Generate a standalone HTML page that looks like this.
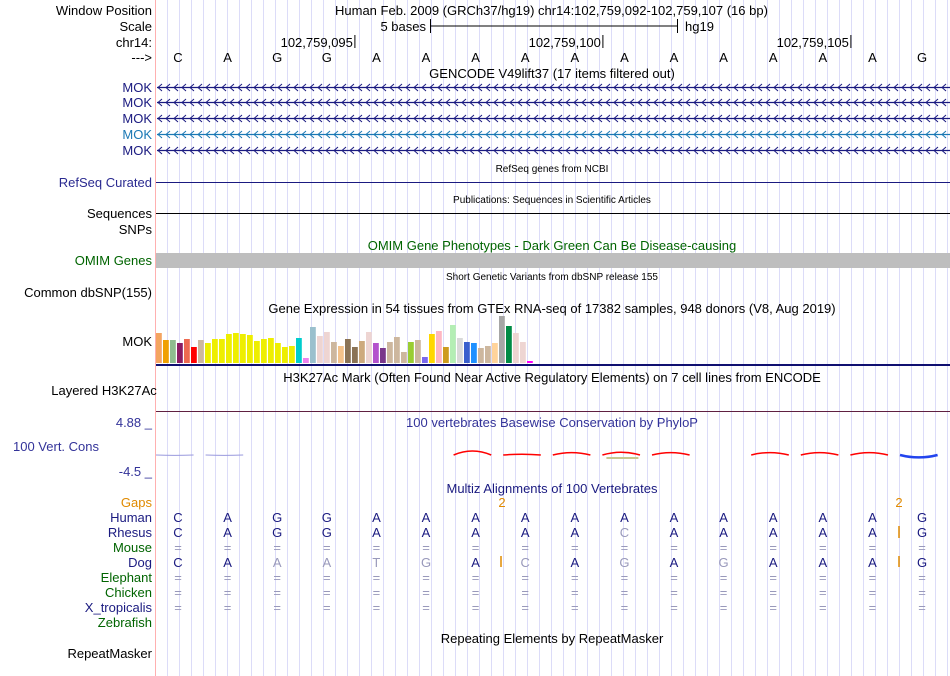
<!DOCTYPE html>
<html><head><meta charset="utf-8"><style>
body{margin:0;background:#fff;}
svg{display:block;font-family:"Liberation Sans",sans-serif;}
</style></head><body>
<svg id="chart" width="950" height="676" viewBox="0 0 950 676" xmlns="http://www.w3.org/2000/svg">
<g id="grid"></g>
<line x1="155.5" y1="0" x2="155.5" y2="676" stroke="#ffb0b0" stroke-width="1"/>
<g font-size="13" text-anchor="end" fill="#000">
<text x="152" y="15">Window Position</text>
<text x="152" y="31">Scale</text>
<text x="152" y="47">chr14:</text>
<text x="152" y="62">---&gt;</text>
<text x="152" y="92" fill="#1a1a80">MOK</text>
<text x="152" y="107" fill="#1a1a80">MOK</text>
<text x="152" y="123" fill="#1a1a80">MOK</text>
<text x="152" y="139" fill="#1a78b4">MOK</text>
<text x="152" y="155" fill="#1a1a80">MOK</text>
<text x="152" y="187" fill="#2a2a90">RefSeq Curated</text>
<text x="152" y="218">Sequences</text>
<text x="152" y="234">SNPs</text>
<text x="152" y="265" fill="#006400">OMIM Genes</text>
<text x="152" y="297">Common dbSNP(155)</text>
<text x="152" y="346">MOK</text>
<text x="104" y="395" text-anchor="middle">Layered H3K27Ac</text>
<text x="152" y="427" fill="#333399">4.88 _</text>
<text x="56" y="451" text-anchor="middle" fill="#333399">100 Vert. Cons</text>
<text x="152" y="476" fill="#333399">-4.5 _</text>
<text x="152" y="507" fill="#e08a00">Gaps</text>
<text x="152" y="522" fill="#1a1a80">Human</text>
<text x="152" y="537" fill="#1a1a80">Rhesus</text>
<text x="152" y="552" fill="#006400">Mouse</text>
<text x="152" y="567" fill="#1a1a80">Dog</text>
<text x="152" y="582" fill="#006400">Elephant</text>
<text x="152" y="597" fill="#006400">Chicken</text>
<text x="152" y="612" fill="#1a1a80">X_tropicalis</text>
<text x="152" y="627" fill="#006400">Zebrafish</text>
<text x="152" y="658">RepeatMasker</text>
</g>
<g font-size="13" fill="#000">
<text x="335" y="15">Human Feb. 2009 (GRCh37/hg19)   chr14:102,759,092-102,759,107 (16 bp)</text>
<text x="426" y="31" text-anchor="end">5 bases</text>
<line x1="430" y1="26" x2="677" y2="26" stroke="#000"/>
<line x1="430.5" y1="19" x2="430.5" y2="33" stroke="#000"/>
<line x1="677.5" y1="19" x2="677.5" y2="33" stroke="#000"/>
<text x="685" y="31">hg19</text>
<text x="552" y="78" text-anchor="middle">GENCODE V49lift37 (17 items filtered out)</text>
<text x="552" y="172" text-anchor="middle" font-size="10">RefSeq genes from NCBI</text>
<text x="552" y="203" text-anchor="middle" font-size="10">Publications: Sequences in Scientific Articles</text>
<text x="552" y="250" text-anchor="middle" fill="#006400">OMIM Gene Phenotypes - Dark Green Can Be Disease-causing</text>
<text x="552" y="280" text-anchor="middle" font-size="10">Short Genetic Variants from dbSNP release 155</text>
<text x="552" y="313" text-anchor="middle">Gene Expression in 54 tissues from GTEx RNA-seq of 17382 samples, 948 donors (V8, Aug 2019)</text>
<text x="552" y="382" text-anchor="middle">H3K27Ac Mark (Often Found Near Active Regulatory Elements) on 7 cell lines from ENCODE</text>
<text x="552" y="427" text-anchor="middle" fill="#333399">100 vertebrates Basewise Conservation by PhyloP</text>
<text x="552" y="493" text-anchor="middle" fill="#1a1a80">Multiz Alignments of 100 Vertebrates</text>
<text x="552" y="643" text-anchor="middle">Repeating Elements by RepeatMasker</text>
</g>
<g id="ruler"></g>
<g id="genes"></g>
<line x1="156" y1="182.5" x2="950" y2="182.5" stroke="#1a1a80"/>
<line x1="156" y1="213.5" x2="950" y2="213.5" stroke="#000"/>
<rect x="156" y="253" width="794" height="15" fill="#bebebe"/>
<g id="gtex"></g>
<rect x="156" y="364" width="794" height="2" fill="#101070"/>
<line x1="156" y1="411.5" x2="950" y2="411.5" stroke="#602040"/>
<g id="cons"></g>
<g id="multiz"></g>
</svg>
<script>
const bases = ["C","A","G","G","A","A","A","A","A","A","A","A","A","A","A","G"];
const rhesus = ["C","A","G","G","A","A","A","A","A","C","A","A","A","A","A","G"];
const dog = ["C","A","A","A","T","G","A","C","A","G","A","G","A","A","A","G"];
const rulerLabels = ["102,759,095","102,759,100","102,759,105"];
const rulerIdx = [3,8,13];
const gtexValues = [30,23,23,20,24,16,23,20,24,24,29,30,29,28,22,24,25,20,16,17,25,5,36,27,31,21,17,24,16,22,31,20,15,21,26,11,21,23,6,29,32,16,38,25,21,20,15,17,20,47,37,30,21,2];
const gtexColors = ["#f4a460","#f0a000","#8fbc8f","#8b1c62","#ee6a50","#ff0000","#cdb79e","#eeee00","#eeee00","#eeee00","#eeee00","#eeee00","#eeee00","#eeee00","#eeee00","#eeee00","#eeee00","#eeee00","#eeee00","#eeee00","#00cdcd","#ee82ee","#9ac0cd","#eed5d2","#eed5d2","#cdb79e","#f4c28a","#8b7355","#8b7355","#cdaa7d","#eed5d2","#b452cd","#7a378b","#cdb79e","#cdb79e","#cdb79e","#9acd32","#cdb79e","#7b68ee","#ffd700","#ffb6c1","#cd9b1d","#b4eeb4","#d9d9d9","#3a5fcd","#1e90ff","#cdb79e","#cdb79e","#ffd39b","#a6a6a6","#008b45","#eed5d2","#eed5d2","#ff00ff"];
const consValues = [-0.05,-0.05,null,null,null,null,0.5,0.1,0.3,0.35,0.3,null,0.3,0.3,0.3,-0.3];
const consColors = ["#9999dd","#9999dd",null,null,null,null,"red","red","red","red","red",null,"red","red","red","#2244ee"];
const ns="http://www.w3.org/2000/svg";
const X0=156, BW=49.6;
function bx(i){return X0+BW*i+22;}
function mk(tag,attrs,parent){const e=document.createElementNS(ns,tag);for(const k in attrs)e.setAttribute(k,attrs[k]);parent.appendChild(e);return e;}
const grid=document.getElementById('grid');
for(let x=167;x<950;x+=12){mk('line',{x1:x+.5,y1:0,x2:x+.5,y2:676,stroke:'#dcdcf8'},grid);}
const ruler=document.getElementById('ruler');
rulerIdx.forEach((bi,k)=>{const x=X0+BW*bi+BW+0.5;
 const t=mk('text',{x:x-2,y:47,'font-size':13,'text-anchor':'end'},ruler);t.textContent=rulerLabels[k];
 
 
 mk('line',{x1:x,y1:35,x2:x,y2:48,stroke:'#000'},ruler);});
bases.forEach((b,i)=>{const t=mk('text',{x:bx(i),y:62,'font-size':13,'text-anchor':'middle'},ruler);t.textContent=b;
 
 });
const genes=document.getElementById('genes');
[87,102,118,134,150].forEach((y,k)=>{const c=k==3?'#1a78b4':'#1a1a80';
 const l=mk('line',{x1:157,y1:y+.5,x2:950,y2:y+.5,stroke:c,'stroke-width':1.3},genes);
 
 
 let d='';for(let x=158;x<950;x+=8){d+=`M${x+4},${y-3}L${x},${y+.5}L${x+4},${y+4}`;}
 mk('path',{d:d,stroke:c,fill:'none','stroke-width':1},genes);});
const gtex=document.getElementById('gtex');
const gBase=363, gScale=1.0, gPitch=7.0;
gtexValues.forEach((v,i)=>{const h=v*gScale;
 const r=mk('rect',{x:X0+i*gPitch,y:gBase-h,width:5.8,height:h,fill:gtexColors[i]},gtex);
 
 });
const cons=document.getElementById('cons');
function cy(v){return 455-v*8;}
consValues.forEach((v,i)=>{if(v===null)return;const x1=X0+BW*i+0,x2=X0+BW*i+BW-12;
 const mx=(x1+x2)/2;
 const p=mk('path',{d:`M${x1},${cy(0)} Q${mx},${2*cy(v)-cy(0)} ${x2},${cy(0)}`,stroke:consColors[i],fill:'none','stroke-width':v<0?(i==15?2.5:1):1.5},cons);
 
 });
mk('rect',{x:X0+BW*9+4,y:457,width:32,height:2,fill:'#c8c890'},cons);
const mz=document.getElementById('multiz');
function letter(ch,x,y,fill,name){const t=mk('text',{x:x,y:y,'font-size':13,'text-anchor':'middle',fill:fill},mz);t.textContent=ch;
 
 }
[[7,502],[15,899]].forEach(([i,x])=>{letter('2',x,507,'#e08a00','gap-count');});
bases.forEach((b,i)=>{const x=bx(i);
 letter(b,x,522,'#1a1a80','human-base');
 letter(rhesus[i],x,537,rhesus[i]==b?'#1a1a80':'#9999bb','rhesus-base');
 letter('=',x,552,'#9999bb','mouse-base');
 letter(dog[i],x,567,dog[i]==b?'#1a1a80':'#9999bb','dog-base');
 letter('=',x,582,'#9999bb','elephant-base');
 letter('=',x,597,'#9999bb','chicken-base');
 letter('=',x,612,'#9999bb','xtropicalis-base');});
[[501,556,567],[899,526,538],[899,556,567]].forEach(([x,a,b])=>{mk('line',{x1:x,y1:a,x2:x,y2:b,stroke:'#e08a00','stroke-width':1.5},mz);});
</script>
</body></html>
